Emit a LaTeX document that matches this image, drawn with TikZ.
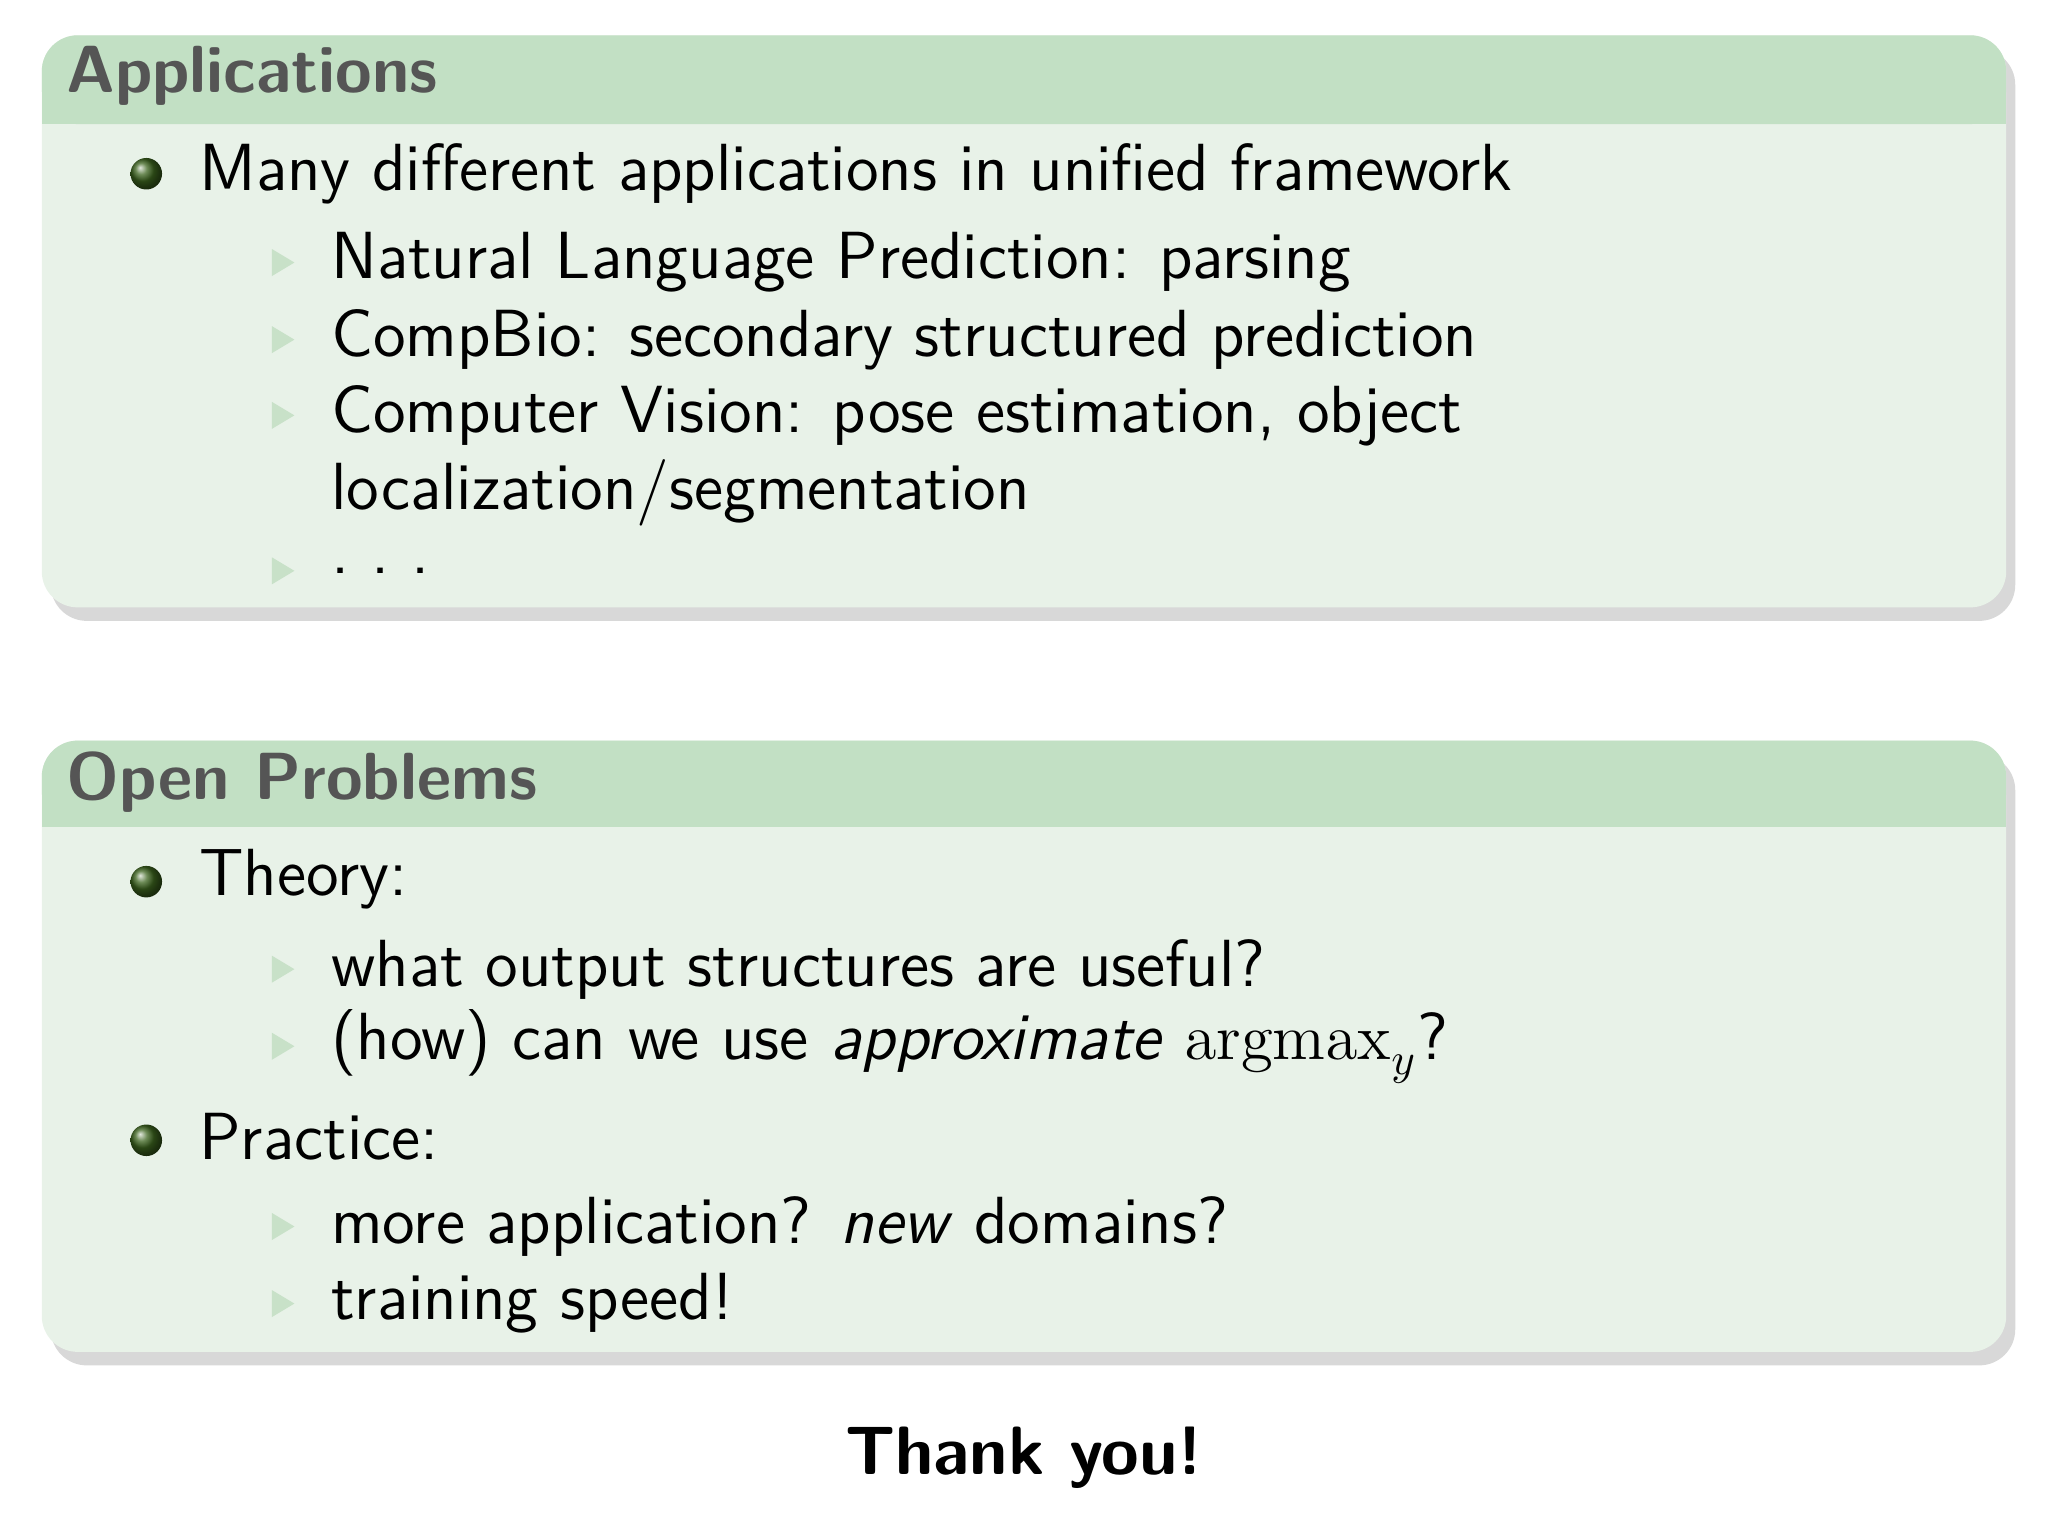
\documentclass[tikz,border=0pt]{standalone}
\usetikzlibrary{positioning,shadows}
\definecolor{headgreen}{RGB}{194,224,196}
\definecolor{bodygreen}{RGB}{232,242,232}
\definecolor{titlegray}{RGB}{85,85,85}
\definecolor{ballgreen}{RGB}{60,100,30}
\definecolor{trigreen}{RGB}{200,225,200}
\tikzset{
  boxbody/.style={fill=bodygreen,rounded corners=8pt,drop shadow={shadow xshift=2pt,shadow yshift=-3pt,fill=black!30}},
  boxhead/.style={fill=headgreen,rounded corners=8pt},
  blocktitle/.style={anchor=west,font=\fontsize{14.8}{17}\selectfont\sffamily\bfseries,text=titlegray,inner sep=0pt},
  itemtext/.style={anchor=west,font=\fontsize{14.8}{17}\selectfont\sffamily,inner sep=0pt},
  ball/.style={circle,inner sep=0pt,minimum size=7pt,ball color=ballgreen},
  tri/.style={fill=trigreen,draw=none}
}
\newcommand{\subtri}[1]{\fill[tri] ([xshift=-13pt]#1.west) ++(0,3pt) -- ++(5pt,-3pt) -- ++(-5pt,-3pt) -- cycle;}
\begin{document}
\begin{tikzpicture}[x=0.0102cm,y=-0.0102cm]
\useasboundingbox (0,0) rectangle (1568,1176);
\fill[white] (0,0) rectangle (1568,1176);
% Applications block
\path[boxbody] (32,27) rectangle (1536,465);
\fill[boxhead] (32,27) rectangle (1536,95);
\fill[headgreen] (32,60) rectangle (1536,95);
\node[blocktitle] (apptitle) at (50,58) {Applications};
\node[ball] (b1) at (112,133) {};
\node[itemtext] (a1) at (152,133) {Many different applications in unified framework};
\node[itemtext] (a2) at (253,201) {Natural Language Prediction: parsing};
\node[itemtext] (a3) at (253,260) {CompBio: secondary structured prediction};
\node[itemtext] (a4) at (253,318) {Computer Vision: pose estimation, object};
\node[itemtext] (a5) at (253,377) {localization/segmentation};
\node[itemtext] (a6) at (253,437) {.\ .\ .};
\subtri{a2}\subtri{a3}\subtri{a4}\subtri{a6}
% Open problems block
\path[boxbody] (32,567) rectangle (1536,1035);
\fill[boxhead] (32,567) rectangle (1536,633);
\fill[headgreen] (32,600) rectangle (1536,633);
\node[blocktitle] (optitle) at (50,599) {Open Problems};
\node[ball] (b2) at (112,675) {};
\node[itemtext] (o1) at (152,673) {Theory:};
\node[itemtext] (o2) at (253,742) {what output structures are useful?};
\node[itemtext] (o3) at (253,801) {(how) can we use \textit{approximate} $\mathop{\mathrm{argmax}}_y$?};
\node[ball] (b3) at (112,873) {};
\node[itemtext] (o4) at (152,870) {Practice:};
\node[itemtext] (o5) at (253,939) {more application? \textit{new} domains?};
\node[itemtext] (o6) at (253,998) {training speed!};
\subtri{o2}\subtri{o3}\subtri{o5}\subtri{o6}
\node[font=\fontsize{15.2}{17}\selectfont\sffamily\bfseries] (thanks) at (784,1116) {Thank you!};
\end{tikzpicture}
\end{document}
